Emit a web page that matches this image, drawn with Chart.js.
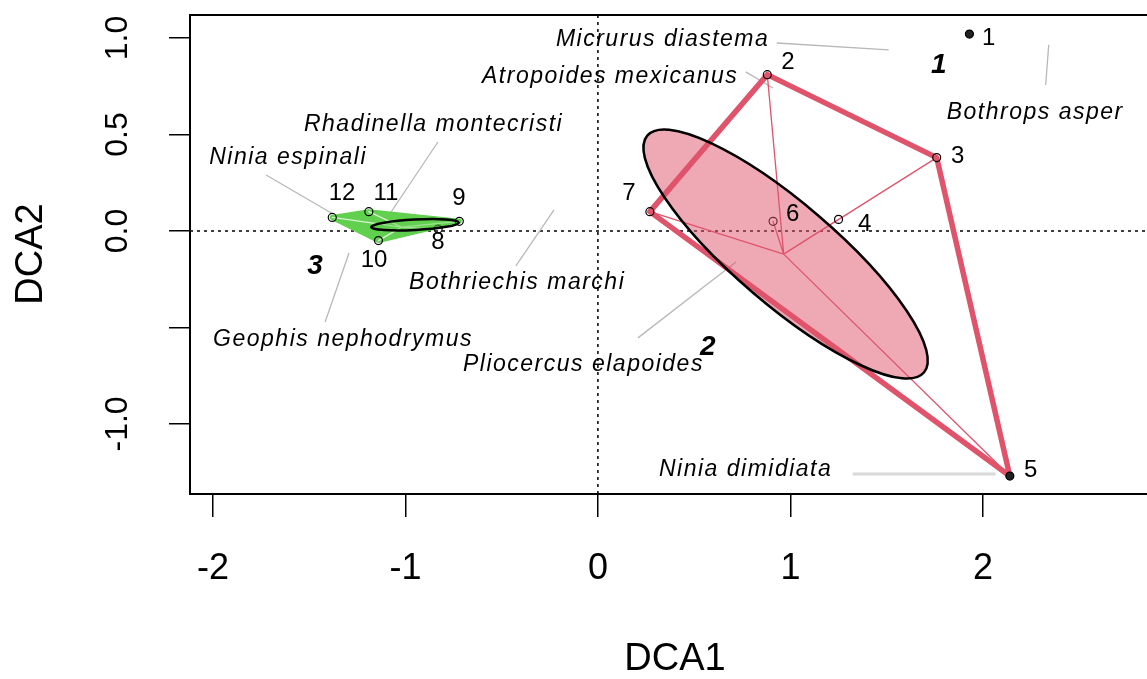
<!DOCTYPE html>
<html>
<head>
<meta charset="utf-8">
<script src="https://cdn.jsdelivr.net/npm/chart.js@4.4.1/dist/chart.umd.min.js"></script>
<style>
  html, body { margin: 0; padding: 0; background: #fff; overflow: hidden; }
  #wrap { width: 1160px; height: 679px; }
</style>
</head>
<body>
<div id="wrap"><canvas id="dca" width="1160" height="679"></canvas></div>
<script>
// --- Site scores (DCA1, DCA2), sites numbered 1..12 ---
const siteIds = ['1', '2', '3', '4', '5', '6', '7', '8', '9', '10', '11', '12'];
const siteX = [1.93, 0.88, 1.76, 1.25, 2.14, 0.91, 0.27, -0.83, -0.72, -1.14, -1.19, -1.38];
const siteY = [1.02, 0.81, 0.38, 0.06, -1.27, 0.05, 0.10, 0.01, 0.05, -0.05, 0.10, 0.07];

// --- Groups (indices into the site arrays) ---
const hull2 = [1, 2, 4, 6, 1];
const hull3 = [11, 10, 8, 9, 11];
const members2 = [1, 2, 3, 4, 5, 6];
const members3 = [7, 8, 9, 10, 11];
const centre2 = [0.965, -0.12];
const centre3 = [-1.02, 0.02];

// ellipses: centre x, centre y, semi-axis a, semi-axis b, angle (deg)
const ellipse2 = [0.975, -0.12, 0.945, 0.262, -40.5];
const ellipse3 = [-0.95, 0.032, 0.228, 0.027, 3];

// --- Axis ticks ---
const xTicks = [-2, -1, 0, 1, 2];
const yTicks = [-1, -0.5, 0, 0.5, 1];
const yTickLabels = ['-1.0', '', '0.0', '0.5', '1.0'];

// --- Species labels ---
const speciesNames = ['Micrurus diastema', 'Atropoides mexicanus', 'Bothrops asper', 'Rhadinella montecristi',
    'Ninia espinali', 'Bothriechis marchi', 'Geophis nephodrymus', 'Pliocercus elapoides', 'Ninia dimidiata'];
const speciesX = [-0.218, -0.602, 1.812, -1.527, -2.019, -0.981, -1.999, -0.701, 0.317];
const speciesY = [0.990, 0.798, 0.611, 0.549, 0.378, -0.269, -0.565, -0.694, -1.238];
const leaderX1 = [0.929, 0.768, 2.342, -0.831, -1.724, -0.228, -1.293, 0.208, 1.324];
const leaderY1 = [0.974, 0.824, 0.964, 0.461, 0.290, 0.109, -0.114, -0.554, -1.259];
const leaderX2 = [1.511, 0.909, 2.326, -1.137, -1.376, -0.426, -1.417, 0.717, 2.066];
const leaderY2 = [0.938, 0.741, 0.756, 0.005, 0.088, -0.181, -0.472, -0.161, -1.259];

// --- Site number label anchors ---
const siteLabelX = [2.030, 0.987, 1.869, 1.386, 2.248, 1.012, 0.161, -0.831, -0.722, -1.163, -1.101, -1.329];
const siteLabelY = [1.000, 0.876, 0.389, 0.036, -1.238, 0.088, 0.197, -0.057, 0.171, -0.150, 0.197, 0.197];

// --- Group labels ---
const groupNames = ['1', '2', '3'];
const groupX = [1.771, 0.571, -1.469];
const groupY = [0.860, -0.601, -0.181];

const RED = '#DF536B';
const GREEN = '#61D04F';

// --- Helpers ---
function pts(indices) {
    return indices.map(i => ({ x: siteX[i], y: siteY[i] }));
}

function spider(centre, members) {
    const out = [];
    members.forEach(i => {
        out.push({ x: centre[0], y: centre[1] }, { x: siteX[i], y: siteY[i] }, { x: NaN, y: NaN });
    });
    return out;
}

function toPx(chart, x, y) {
    return [chart.scales.x.getPixelForValue(x), chart.scales.y.getPixelForValue(y)];
}

function drawEllipse(chart, e, fill, stroke, lw) {
    const ctx = chart.ctx;
    const [cx, cy, a, b, deg] = e;
    const t = deg * Math.PI / 180;
    const c = toPx(chart, cx, cy);
    const pa = toPx(chart, cx + a * Math.cos(t), cy + a * Math.sin(t));
    const pb = toPx(chart, cx - b * Math.sin(t), cy + b * Math.cos(t));
    const ra = Math.hypot(pa[0] - c[0], pa[1] - c[1]);
    const rb = Math.hypot(pb[0] - c[0], pb[1] - c[1]);
    const rot = Math.atan2(pa[1] - c[1], pa[0] - c[0]);
    ctx.save();
    ctx.beginPath();
    ctx.ellipse(c[0], c[1], ra, rb, rot, 0, 2 * Math.PI);
    if (fill) { ctx.fillStyle = fill; ctx.fill(); }
    ctx.strokeStyle = stroke;
    ctx.lineWidth = lw;
    ctx.stroke();
    ctx.restore();
}

// --- Plugin: box, zero lines, ellipses, labels ---
const decor = {
    id: 'decor',
    beforeDatasetsDraw(chart) {
        const { ctx, chartArea: a } = chart;
        const x0 = chart.scales.x.getPixelForValue(0);
        const y0 = chart.scales.y.getPixelForValue(0);
        ctx.save();
        ctx.strokeStyle = '#000';
        ctx.lineWidth = 1.5;
        ctx.setLineDash([3, 4]);
        ctx.beginPath();
        ctx.moveTo(x0, a.top); ctx.lineTo(x0, a.bottom);
        ctx.moveTo(a.left, y0); ctx.lineTo(a.right, y0);
        ctx.stroke();
        ctx.setLineDash([]);

        // leader lines
        speciesNames.forEach((n, i) => {
            const p1 = toPx(chart, leaderX1[i], leaderY1[i]);
            const p2 = toPx(chart, leaderX2[i], leaderY2[i]);
            const last = i === speciesNames.length - 1;
            ctx.lineWidth = last ? 3 : 1.3;
            ctx.strokeStyle = last ? '#d8d8d8' : '#b8b8b8';
            ctx.beginPath();
            ctx.moveTo(p1[0], p1[1]); ctx.lineTo(p2[0], p2[1]);
            ctx.stroke();
        });
        ctx.restore();
    },
    afterDatasetsDraw(chart) {
        const { ctx, chartArea: a } = chart;
        drawEllipse(chart, ellipse2, 'rgba(223, 83, 107, 0.5)', '#000', 2.5);
        drawEllipse(chart, ellipse3, 'rgba(97, 208, 79, 0.5)', '#000', 2.5);

        ctx.save();
        ctx.fillStyle = '#000';
        ctx.textBaseline = 'middle';

        // species names
        ctx.font = 'italic 23px "Liberation Sans", Arial, sans-serif';
        ctx.letterSpacing = '1.5px';
        ctx.textAlign = 'left';
        speciesNames.forEach((n, i) => {
            const p = toPx(chart, speciesX[i], speciesY[i]);
            ctx.fillText(n, p[0], p[1]);
        });
        ctx.letterSpacing = '0px';

        // site numbers
        ctx.font = '24px "Liberation Sans", Arial, sans-serif';
        ctx.textAlign = 'center';
        siteIds.forEach((s, i) => {
            const p = toPx(chart, siteLabelX[i], siteLabelY[i]);
            ctx.fillText(s, p[0], p[1]);
        });

        // group numbers
        ctx.font = 'bold italic 28px "Liberation Sans", Arial, sans-serif';
        groupNames.forEach((g, i) => {
            const p = toPx(chart, groupX[i], groupY[i]);
            ctx.fillText(g, p[0], p[1]);
        });

        // y tick labels (rotated, R style)
        ctx.font = '32px "Liberation Sans", Arial, sans-serif';
        yTicks.forEach((v, i) => {
            if (!yTickLabels[i]) return;
            const y = chart.scales.y.getPixelForValue(v);
            ctx.save();
            ctx.translate(118, y);
            ctx.rotate(-Math.PI / 2);
            ctx.fillText(yTickLabels[i], 0, 0);
            ctx.restore();
        });

        // axis titles
        ctx.font = '38px "Liberation Sans", Arial, sans-serif';
        ctx.fillText('DCA1', 675, 660);
        ctx.save();
        ctx.translate(32, 254);
        ctx.rotate(-Math.PI / 2);
        ctx.fillText('DCA2', 0, 0);
        ctx.restore();

        // plot box
        ctx.strokeStyle = '#000';
        ctx.lineWidth = 2;
        ctx.strokeRect(a.left, a.top, a.right - a.left, a.bottom - a.top);
        ctx.restore();
    }
};

// --- Chart ---
const lineBase = {
    showLine: true, pointRadius: 0, pointHoverRadius: 0, tension: 0, spanGaps: false,
    borderJoinStyle: 'round', borderCapStyle: 'round'
};

new Chart(document.getElementById('dca').getContext('2d'), {
    type: 'scatter',
    data: {
        datasets: [
            {
                label: 'sites',
                data: siteX.map((x, i) => ({ x: x, y: siteY[i] })),
                pointStyle: 'circle',
                pointRadius: 4,
                pointBorderWidth: 1.2,
                pointBorderColor: '#000',
                pointBackgroundColor: siteX.map((x, i) => (i === 0 || i === 4) ? '#222' : 'rgba(0,0,0,0)'),
                order: 0
            },
            { ...lineBase, label: 'hull 2', data: pts(hull2), borderColor: RED, borderWidth: 5.5, order: 2 },
            { ...lineBase, label: 'spider 2', data: spider(centre2, members2), borderColor: RED, borderWidth: 1.3, order: 3 },
            { ...lineBase, label: 'spider 3', data: spider(centre3, members3), borderColor: '#d9f3d3', borderWidth: 1.3, order: 1 },
            { ...lineBase, label: 'hull 3', data: pts(hull3), borderColor: GREEN, backgroundColor: GREEN, borderWidth: 5, fill: 'shape', order: 4 }
        ]
    },
    options: {
        responsive: false,
        animation: false,
        layout: { padding: { top: 15, right: 5, left: 0, bottom: 0 } },
        plugins: { legend: { display: false }, tooltip: { enabled: false } },
        scales: {
            x: {
                type: 'linear',
                min: -2.119,
                max: 2.893,
                afterFit: (s) => { s.height = 185; },
                afterBuildTicks: (s) => { s.ticks = xTicks.map(v => ({ value: v })); },
                grid: { drawOnChartArea: false, drawTicks: true, tickLength: 23, color: '#000', lineWidth: 1.5 },
                border: { display: false },
                ticks: {
                    color: '#000',
                    padding: 30,
                    font: { family: '"Liberation Sans", Arial, sans-serif', size: 36 },
                    callback: (v) => String(v)
                }
            },
            y: {
                type: 'linear',
                min: -1.363,
                max: 1.119,
                afterFit: (s) => { s.width = 190; },
                afterBuildTicks: (s) => { s.ticks = yTicks.map(v => ({ value: v })); },
                grid: { drawOnChartArea: false, drawTicks: true, tickLength: 21, color: '#000', lineWidth: 1.5 },
                border: { display: false },
                ticks: { display: false }
            }
        }
    },
    plugins: [decor]
});
</script>
</body>
</html>
